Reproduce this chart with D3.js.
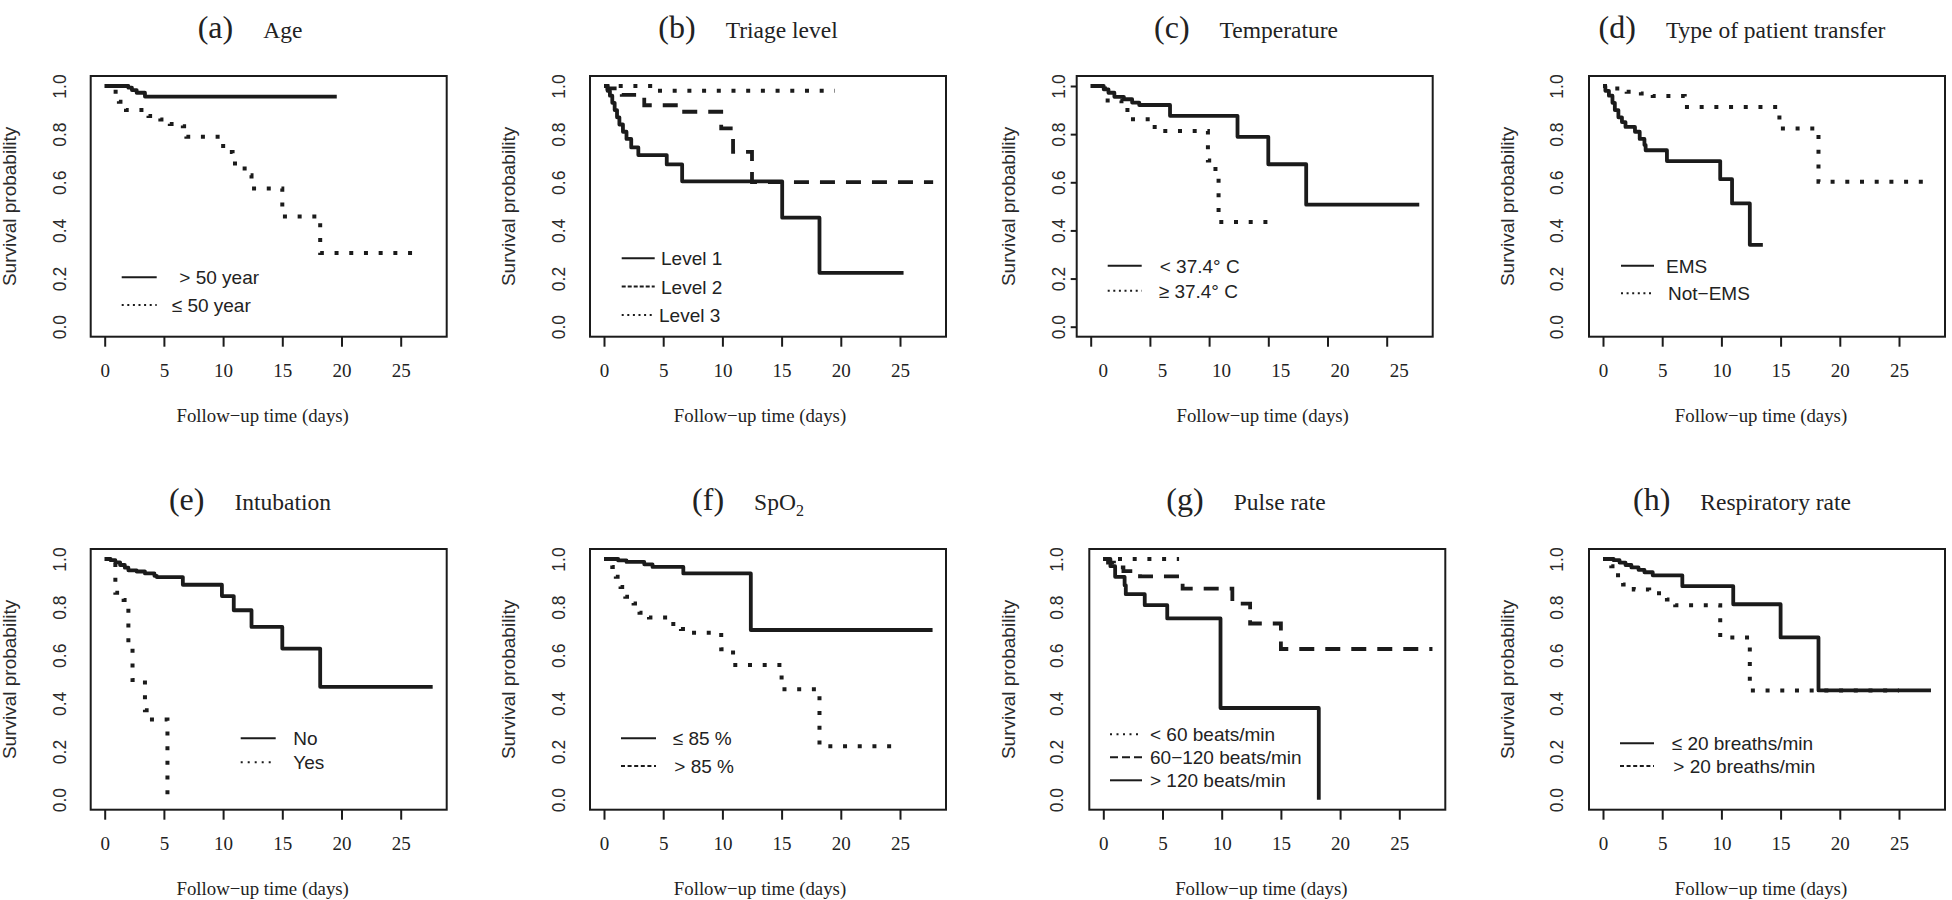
<!DOCTYPE html>
<html>
<head>
<meta charset="utf-8">
<script src="https://cdn.jsdelivr.net/npm/d3@7"></script>
<style>
  html, body { margin: 0; padding: 0; background: #fff; }
  svg { display: block; }
</style>
</head>
<body>
<svg id="chart" width="1952" height="900"></svg>
<script>
// ---------------- DATA ----------------
const panelLetters = ["a", "b", "c", "d", "e", "f", "g", "h"];
const panelNames = ["Age", "Triage level", "Temperature", "Type of patient transfer",
                    "Intubation", "SpO", "Pulse rate", "Respiratory rate"];
const xTickValues = [0, 5, 10, 15, 20, 25];
const yTickValues = [0, 0.2, 0.4, 0.6, 0.8, 1.0];
const xAxisTitle = "Follow\u2212up time (days)";
const yAxisTitle = "Survival probability";

// (a) Age  — [time, survival]
const ageOver50 = [[0,1],[2.0,0.993],[2.3,0.983],[2.7,0.972],[3.4,0.956],[19.6,0.956]];
const ageUnder50 = [[0,1],[0.7,0.976],[1.2,0.935],[1.8,0.9],[3.7,0.875],[4.7,0.861],[5.5,0.842],
  [6.6,0.833],[6.9,0.789],[9.8,0.751],[10.4,0.726],[10.8,0.678],[11.6,0.657],[12.0,0.629],
  [12.4,0.574],[15.0,0.458],[18.2,0.306],[26.8,0.306]];
const ageLabels = ["> 50 year", "\u2264 50 year"];

// (b) Triage level
const triage1 = [[0,1],[0.3,0.98],[0.5,0.96],[0.7,0.93],[0.9,0.9],[1.1,0.87],[1.3,0.84],[1.6,0.81],
  [1.9,0.78],[2.3,0.745],[2.9,0.713],[5.3,0.674],[6.6,0.604],[15.05,0.453],[18.2,0.224],[25.3,0.224]];
const triage2 = [[0,1],[0.3,0.99],[1.5,0.963],[3.4,0.92],[6.6,0.893],[9.9,0.824],[10.9,0.726],
  [12.5,0.601],[27.8,0.601]];
const triage3 = [[0,1],[3.9,0.98],[19.5,0.98]];
const triageLabels = ["Level 1", "Level 2", "Level 3"];

// (c) Temperature
const tempLow = [[0,1],[1.1,0.986],[1.5,0.972],[2.0,0.955],[2.8,0.945],[3.5,0.931],[4.1,0.921],
  [6.7,0.876],[12.4,0.789],[15.0,0.675],[18.2,0.507],[27.75,0.507]];
const tempHigh = [[0,1],[1.2,0.94],[2.6,0.9],[3.4,0.862],[5.2,0.83],[6.0,0.813],[9.9,0.69],
  [10.3,0.655],[10.8,0.435],[15.7,0.435]];
const tempLabels = ["< 37.4\u00B0 C", "\u2265 37.4\u00B0 C"];

// (d) Type of patient transfer
const transferEMS = [[0,1],[0.2,0.98],[0.5,0.96],[0.8,0.93],[1.0,0.9],[1.3,0.87],[1.6,0.85],
  [1.9,0.83],[2.7,0.81],[3.1,0.78],[3.5,0.755],[3.6,0.733],[5.4,0.688],[9.9,0.613],[10.9,0.512],
  [12.4,0.34],[13.5,0.34]];
const transferNotEMS = [[0,1],[1.0,0.99],[2.0,0.976],[3.2,0.969],[4.2,0.958],[6.9,0.913],
  [14.9,0.823],[18.2,0.602],[27.7,0.602]];
const transferLabels = ["EMS", "Not\u2212EMS"];

// (e) Intubation
const intubNo = [[0,1],[0.5,0.995],[0.9,0.986],[1.3,0.975],[1.7,0.964],[2.0,0.953],[2.7,0.948],
  [3.4,0.94],[4.2,0.93],[4.4,0.925],[6.6,0.893],[9.9,0.846],[10.9,0.787],[12.4,0.718],[15.0,0.628],
  [18.2,0.469],[27.7,0.469]];
const intubYes = [[0,1],[0.9,0.86],[1.6,0.83],[2.0,0.64],[2.35,0.497],[3.4,0.372],[3.8,0.333],[5.3,0]];
const intubLabels = ["No", "Yes"];

// (f) SpO2
const spo2Low = [[0,1],[1.2,0.994],[1.9,0.988],[3.4,0.978],[4.1,0.967],[6.7,0.94],[12.4,0.705],[27.75,0.705]];
const spo2High = [[0,1],[0.7,0.967],[1.0,0.926],[1.4,0.884],[1.8,0.843],[2.5,0.815],[3.0,0.777],
  [3.8,0.757],[5.6,0.73],[6.5,0.709],[7.3,0.694],[9.9,0.625],[10.9,0.56],[15.0,0.459],[18.2,0.222],[25.1,0.222]];
const spo2Labels = ["\u2264 85 %", "> 85 %"];

// (g) Pulse rate
const pulseLow = [[0,1],[6.4,1]];
const pulseMid = [[0,1],[0.4,0.985],[0.9,0.965],[1.7,0.95],[3.1,0.928],[6.7,0.877],[10.9,0.815],
  [12.4,0.732],[15.0,0.626],[27.8,0.626]];
const pulseHigh = [[0,1],[0.6,0.97],[1.0,0.926],[1.8,0.891],[1.9,0.854],[3.5,0.808],[5.4,0.753],
  [9.9,0.381],[18.2,0]];
const pulseLabels = ["< 60 beats/min", "60\u2212120 beats/min", "> 120 beats/min"];

// (h) Respiratory rate
const respLow = [[0,1],[0.9,0.995],[1.4,0.985],[1.9,0.975],[2.4,0.965],[3.0,0.955],[3.5,0.945],
  [4.2,0.932],[6.7,0.887],[11.0,0.812],[15.0,0.674],[18.2,0.454],[27.7,0.454]];
const respHigh = [[0,1],[0.7,0.97],[1.0,0.932],[1.7,0.894],[2.6,0.873],[3.9,0.858],[5.4,0.832],
  [6.1,0.808],[9.9,0.674],[12.4,0.454],[25.0,0.454]];
const respLabels = ["\u2264 20 breaths/min", "> 20 breaths/min"];

// ---------------- STYLES ----------------
const INK = "#1b1b1b";
const curveStyle = {
  solid:  { width: 3.8, dash: null },
  dashed: { width: 3.8, dash: "15 11" },
  dotted: { width: 4,   dash: "4 10.7" }
};

// panel series definitions (data + style names + legend dash patterns)
const panels = [
  { series: [ageOver50, ageUnder50], styles: ["solid","dotted"], labels: ageLabels,
    legendDash: [null, "2 3.6"] },
  { series: [triage1, triage2, triage3], styles: ["solid","dashed","dotted"], labels: triageLabels,
    legendDash: [null, "4 2", "2 3.6"] },
  { series: [tempLow, tempHigh], styles: ["solid","dotted"], labels: tempLabels,
    legendDash: [null, "2 3.6"] },
  { series: [transferEMS, transferNotEMS], styles: ["solid","dotted"], labels: transferLabels,
    legendDash: [null, "2 3.6"] },
  { series: [intubNo, intubYes], styles: ["solid","dotted"], labels: intubLabels,
    legendDash: [null, "2 5"] },
  { series: [spo2Low, spo2High], styles: ["solid","dotted"], labels: spo2Labels,
    legendDash: [null, "4 2.6"] },
  { series: [pulseLow, pulseMid, pulseHigh], styles: ["dotted","dashed","solid"], labels: pulseLabels,
    legendDash: ["2 4.5", "8 4", null] },
  { series: [respLow, respHigh], styles: ["solid","dotted"], labels: respLabels,
    legendDash: [null, "4 2.6"] }
];

// ---------------- LAYOUT ----------------
const BOX_W = 356, BOX_H = 260.7;
const colCenters = [250, 748, 1246, 1742];
const layout = [
  { bl: 90.7,  bt: 76,  yTick: 0, yLab: 25, xLabShift: 0,  yTitle: 75, xTitleShift: -6,
    leg: { lx: 31, len: 35, y0: 201.3, dy: 27.7, tx: [88.6, 81] } },
  { bl: 590,   bt: 76,  yTick: 0, yLab: 25, xLabShift: 0,  yTitle: 75, xTitleShift: -8,
    leg: { lx: 31.7, len: 33, y0: 182.3, dy: 28.3, tx: [71, 71, 69] } },
  { bl: 1076.7, bt: 76, yTick: 6, yLab: 12, xLabShift: 12, yTitle: 62, xTitleShift: 8,
    leg: { lx: 31, len: 34, y0: 189.7, dy: 25, tx: [83, 82] } },
  { bl: 1589,  bt: 76,  yTick: 0, yLab: 26, xLabShift: 0,  yTitle: 75.5, xTitleShift: -6,
    leg: { lx: 32, len: 33, y0: 189.7, dy: 27.6, tx: [77, 79] } },
  { bl: 90.7,  bt: 549, yTick: 0, yLab: 25, xLabShift: 0,  yTitle: 75, xTitleShift: -6,
    leg: { lx: 150, len: 35, y0: 189.3, dy: 24, tx: [202.6, 202.6] } },
  { bl: 590,   bt: 549, yTick: 0, yLab: 25, xLabShift: 0,  yTitle: 75, xTitleShift: -8,
    leg: { lx: 31, len: 35, y0: 189.3, dy: 27.7, tx: [82.7, 84.3] } },
  { bl: 1089.3, bt: 549, yTick: 0, yLab: 26, xLabShift: 0, yTitle: 74.3, xTitleShift: -6,
    leg: { lx: 20.7, len: 32, y0: 185.3, dy: 23, tx: [60.7, 60.7, 60.7] } },
  { bl: 1589,  bt: 549, yTick: 0, yLab: 26, xLabShift: 0,  yTitle: 75.5, xTitleShift: -6,
    leg: { lx: 31, len: 34, y0: 194.3, dy: 22.7, tx: [82.7, 84.3] } }
];

const SERIF = "'Liberation Serif', 'Times New Roman', serif";
const SANS = "'Liberation Sans', Arial, Helvetica, sans-serif";

const svg = d3.select("#chart");

panels.forEach((p, i) => {
  const L = layout[i];
  const g = svg.append("g");
  const bb = L.bt + BOX_H;

  const x = d3.scaleLinear().domain([0, 25]).range([L.bl + 14, L.bl + 310]);
  const y = d3.scaleLinear().domain([0, 1]).range([L.bt + 250.7, L.bt + 10]);

  // title
  const row = Math.floor(i / 4), col = i % 4;
  const title = g.append("text")
    .attr("x", colCenters[col])
    .attr("y", row === 0 ? 38.3 : 510)
    .attr("text-anchor", "middle")
    .attr("font-family", SERIF)
    .attr("fill", "#222");
  title.append("tspan").attr("font-size", 32).text("(" + panelLetters[i] + ")");
  title.append("tspan").attr("font-size", 23.5).attr("dx", 30).text(panelNames[i]);
  if (panelNames[i] === "SpO") {
    title.append("tspan").attr("font-size", 16).attr("dy", 6).text("2");
  }

  // x axis
  const xAxis = g.append("g")
    .attr("transform", `translate(0,${bb})`)
    .call(d3.axisBottom(x).tickValues(xTickValues).tickSize(10).tickPadding(16.5)
      .tickFormat(d3.format("d")));
  xAxis.select(".domain").remove();
  xAxis.selectAll("line").attr("stroke", INK).attr("stroke-width", 2);
  xAxis.selectAll("text")
    .attr("font-family", SERIF).attr("font-size", 19).attr("fill", "#222")
    .attr("dx", L.xLabShift);

  // y axis
  const yAxis = g.append("g")
    .attr("transform", `translate(${L.bl},0)`)
    .call(d3.axisLeft(y).tickValues(yTickValues).tickSize(L.yTick)
      .tickFormat(d3.format(".1f")));
  yAxis.select(".domain").remove();
  yAxis.selectAll("line").attr("stroke", INK).attr("stroke-width", 2);
  yAxis.selectAll("text")
    .attr("x", 0).attr("y", 0).attr("dy", 0)
    .attr("transform", `translate(${-L.yLab},0) rotate(-90)`)
    .attr("text-anchor", "middle")
    .attr("font-family", SANS).attr("font-size", 17.5).attr("fill", "#2a2a2a");

  // box
  g.append("rect")
    .attr("x", L.bl).attr("y", L.bt).attr("width", BOX_W).attr("height", BOX_H)
    .attr("fill", "none").attr("stroke", INK).attr("stroke-width", 2);

  // curves
  const line = d3.line().x(d => x(d[0])).y(d => y(d[1])).curve(d3.curveStepAfter);
  p.series.forEach((s, k) => {
    const st = curveStyle[p.styles[k]];
    g.append("path")
      .attr("d", line(s))
      .attr("fill", "none")
      .attr("stroke", INK)
      .attr("stroke-width", st.width)
      .attr("stroke-linejoin", st.dash ? "miter" : "round")
      .attr("stroke-linecap", "butt")
      .attr("stroke-dasharray", st.dash);
  });

  // legend
  const lg = L.leg;
  p.labels.forEach((lab, k) => {
    const ly = L.bt + lg.y0 + k * lg.dy;
    g.append("line")
      .attr("x1", L.bl + lg.lx).attr("x2", L.bl + lg.lx + lg.len)
      .attr("y1", ly).attr("y2", ly)
      .attr("stroke", INK).attr("stroke-width", 2)
      .attr("stroke-dasharray", p.legendDash[k]);
    g.append("text")
      .attr("x", L.bl + lg.tx[k]).attr("y", ly + 7)
      .attr("font-family", SANS).attr("font-size", 19).attr("fill", "#222")
      .text(lab);
  });

  // axis titles
  g.append("text")
    .attr("x", L.bl + BOX_W / 2 + L.xTitleShift).attr("y", bb + 85.5)
    .attr("text-anchor", "middle")
    .attr("font-family", SERIF).attr("font-size", 18.8).attr("fill", "#222")
    .text(xAxisTitle);
  g.append("text")
    .attr("transform", `translate(${L.bl - L.yTitle},${L.bt + BOX_H / 2}) rotate(-90)`)
    .attr("text-anchor", "middle")
    .attr("font-family", SANS).attr("font-size", 19).attr("fill", "#2a2a2a")
    .text(yAxisTitle);
});
</script>
</body>
</html>
